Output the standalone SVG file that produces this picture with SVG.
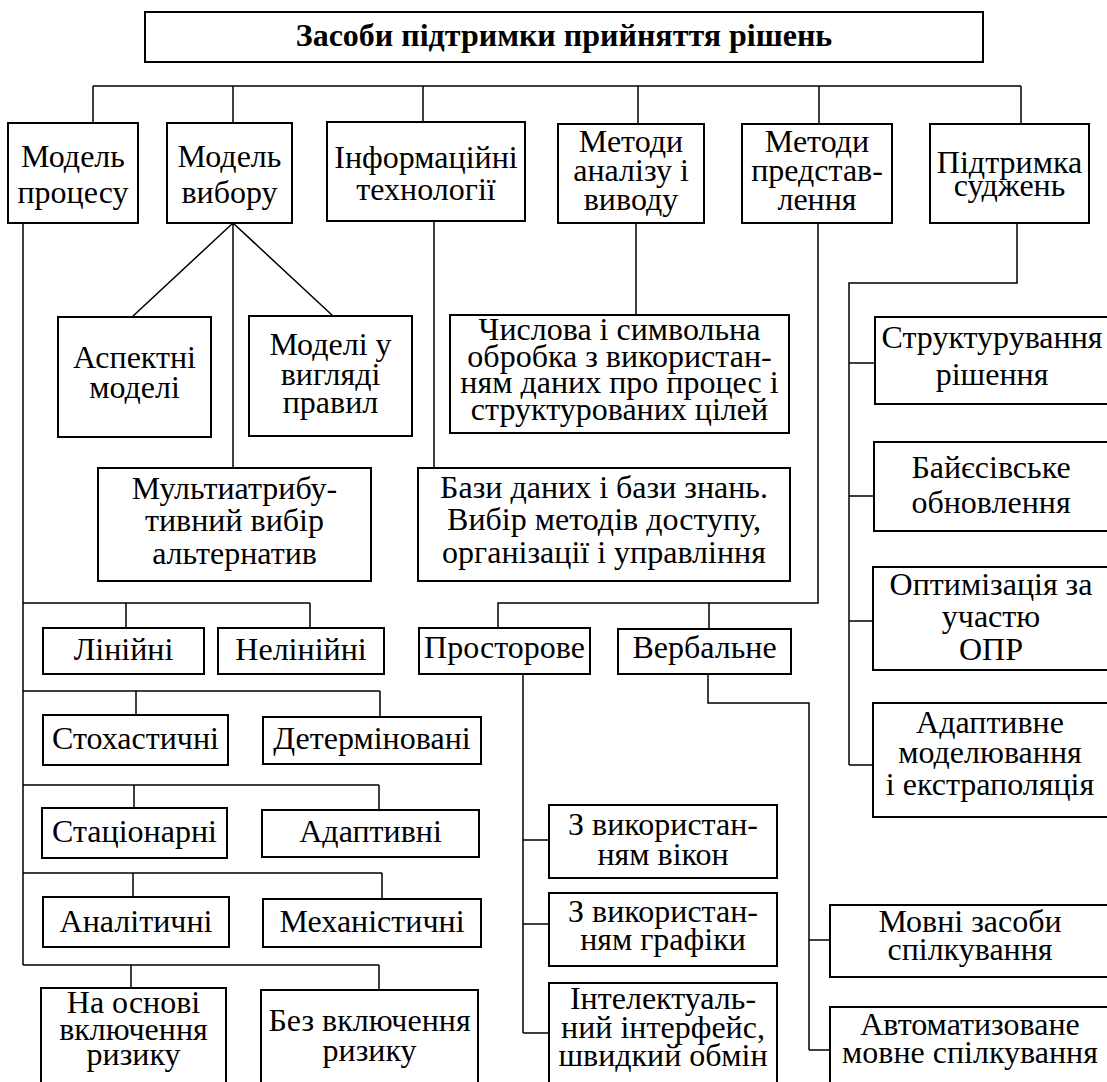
<svg xmlns="http://www.w3.org/2000/svg" width="1107" height="1082" viewBox="0 0 1107 1082" xml:lang="uk" lang="uk" font-family="Liberation Serif, DejaVu Serif, serif">
<style>
.box{fill:#fff;stroke:#000;stroke-width:2}
.ln{fill:none;stroke:#000;stroke-width:1.5}
.t{font-family:'Liberation Serif','DejaVu Serif',serif;font-size:32px;text-anchor:middle;fill:#000}
.title{font-weight:bold}
</style>
<rect width="1107" height="1082" fill="#fff"/>
<g id="connectors">
<path class="ln" d="M93,86 H1021 M93,86 V123 M233,86 V123 M423,86 V122 M638,86 V124 M819,86 V124 M1021,86 V124"/>
<path class="ln" d="M23,223 V965 M23,603 H310 M126,603 V628 M310,603 V628 M23,691 H380 M136,691 V715 M380,691 V717 M23,785 H379 M134,785 V808 M379,785 V810 M23,873 H382 M133,873 V897 M382,873 V899 M23,965 H379 M131,965 V988 M379,965 V990"/>
<path class="ln" d="M233,223 L132,317 M233,223 L333,316 M233,223 V468"/>
<path class="ln" d="M434,221 V468"/>
<path class="ln" d="M636,223 V315"/>
<path class="ln" d="M818,223 V603 H498 V628 M709,603 V629"/>
<path class="ln" d="M523,674 V1033 M523,840 H549 M523,924 H549 M523,1033 H549"/>
<path class="ln" d="M708,674 V703 H809 V1050 M809,940 H830 M809,1050 H830"/>
<path class="ln" d="M1017,223 V283 H849 V765 M849,363 H875 M849,496 H874 M849,621 H873 M849,765 H873"/>
</g>
<g id="title"><rect class="box" x="145" y="12" width="838" height="50"/><text class="t title" x="564" y="46">Засоби підтримки прийняття рішень</text></g>
<g id="model-procesu"><rect class="box" x="8" y="123" width="130" height="100"/><text class="t"><tspan x="73" y="167">Модель</tspan><tspan x="73" y="203">процесу</tspan></text></g>
<g id="model-vyboru"><rect class="box" x="167" y="123" width="125" height="100"/><text class="t"><tspan x="229.5" y="167">Модель</tspan><tspan x="229.5" y="203">вибору</tspan></text></g>
<g id="inf-tech"><rect class="box" x="327" y="122" width="198" height="99"/><text class="t"><tspan x="426" y="168">Інформаційні</tspan><tspan x="426" y="200">технології</tspan></text></g>
<g id="metody-analizu"><rect class="box" x="558" y="124" width="146" height="99"/><text class="t"><tspan x="631" y="152">Методи</tspan><tspan x="631" y="181">аналізу і</tspan><tspan x="631" y="210">виводу</tspan></text></g>
<g id="metody-predst"><rect class="box" x="742" y="124" width="150" height="99"/><text class="t"><tspan x="817" y="152">Методи</tspan><tspan x="817" y="181">представ-</tspan><tspan x="817" y="210">лення</tspan></text></g>
<g id="pidtrymka"><rect class="box" x="930" y="124" width="159" height="99"/><text class="t"><tspan x="1009.5" y="173">Підтримка</tspan><tspan x="1009.5" y="196">суджень</tspan></text></g>
<g id="aspektni"><rect class="box" x="58" y="317" width="153" height="120"/><text class="t"><tspan x="134.5" y="368">Аспектні</tspan><tspan x="134.5" y="398">моделі</tspan></text></g>
<g id="pravyla"><rect class="box" x="249" y="316" width="163" height="120"/><text class="t"><tspan x="330.5" y="355">Моделі у</tspan><tspan x="330.5" y="385">вигляді</tspan><tspan x="330.5" y="413">правил</tspan></text></g>
<g id="multy"><rect class="box" x="98" y="468" width="273" height="113"/><text class="t"><tspan x="234.5" y="499">Мультиатрибу-</tspan><tspan x="234.5" y="531">тивний вибір</tspan><tspan x="234.5" y="564">альтернатив</tspan></text></g>
<g id="chyslova"><rect class="box" x="450" y="315" width="339" height="118"/><text class="t"><tspan x="619.5" y="340">Числова і символьна</tspan><tspan x="619.5" y="367">обробка з використан-</tspan><tspan x="619.5" y="393">ням даних про процес і</tspan><tspan x="619.5" y="420">структурованих цілей</tspan></text></g>
<g id="bazy"><rect class="box" x="418" y="468" width="372" height="113"/><text class="t"><tspan x="604" y="498">Бази даних і бази знань.</tspan><tspan x="604" y="530">Вибір методів доступу,</tspan><tspan x="604" y="563">організації і управління</tspan></text></g>
<g id="struktur"><rect class="box" x="875" y="317" width="245" height="87"/><text class="t"><tspan x="992" y="348">Структурування</tspan><tspan x="992" y="385">рішення</tspan></text></g>
<g id="bayes"><rect class="box" x="874" y="442" width="245" height="89"/><text class="t"><tspan x="991" y="478">Байєсівське</tspan><tspan x="991" y="513">обновлення</tspan></text></g>
<g id="optym"><rect class="box" x="873" y="567" width="245" height="103"/><text class="t"><tspan x="991" y="595">Оптимізація за</tspan><tspan x="991" y="627">участю</tspan><tspan x="991" y="660">ОПР</tspan></text></g>
<g id="adapt-mod"><rect class="box" x="873" y="703" width="245" height="114"/><text class="t"><tspan x="990" y="733">Адаптивне</tspan><tspan x="990" y="763">моделювання</tspan><tspan x="990" y="795">і екстраполяція</tspan></text></g>
<g id="liniini"><rect class="box" x="43" y="628" width="161" height="46"/><text class="t" x="123.5" y="660">Лінійні</text></g>
<g id="neliniini"><rect class="box" x="218" y="628" width="166" height="46"/><text class="t" x="301" y="660">Нелінійні</text></g>
<g id="stoch"><rect class="box" x="43" y="715" width="185" height="50"/><text class="t" x="135.5" y="749">Стохастичні</text></g>
<g id="determ"><rect class="box" x="263" y="717" width="218" height="47"/><text class="t" x="372" y="749">Детерміновані</text></g>
<g id="stac"><rect class="box" x="42" y="808" width="185" height="50"/><text class="t" x="134.5" y="842">Стаціонарні</text></g>
<g id="adaptyvni"><rect class="box" x="262" y="810" width="217" height="47"/><text class="t" x="370.5" y="842">Адаптивні</text></g>
<g id="analit"><rect class="box" x="43" y="897" width="186" height="50"/><text class="t" x="136" y="932">Аналітичні</text></g>
<g id="mech"><rect class="box" x="263" y="899" width="218" height="48"/><text class="t" x="372" y="932">Механістичні</text></g>
<g id="na-osnovi"><rect class="box" x="41" y="988" width="185" height="110"/><text class="t"><tspan x="133.5" y="1013">На основі</tspan><tspan x="133.5" y="1040">включення</tspan><tspan x="133.5" y="1065">ризику</tspan></text></g>
<g id="bez"><rect class="box" x="261" y="990" width="217" height="110"/><text class="t"><tspan x="369.5" y="1031">Без включення</tspan><tspan x="369.5" y="1061">ризику</tspan></text></g>
<g id="prostorove"><rect class="box" x="419" y="628" width="171" height="46"/><text class="t" x="504.5" y="658">Просторове</text></g>
<g id="verbalne"><rect class="box" x="618" y="629" width="173" height="45"/><text class="t" x="704.5" y="658">Вербальне</text></g>
<g id="vikon"><rect class="box" x="549" y="805" width="228" height="73"/><text class="t"><tspan x="663" y="835">З використан-</tspan><tspan x="663" y="865">ням вікон</tspan></text></g>
<g id="grafiky"><rect class="box" x="549" y="893" width="228" height="73"/><text class="t"><tspan x="663" y="922">З використан-</tspan><tspan x="663" y="950">ням графіки</tspan></text></g>
<g id="intel"><rect class="box" x="549" y="983" width="228" height="110"/><text class="t"><tspan x="663" y="1009">Інтелектуаль-</tspan><tspan x="663" y="1038">ний інтерфейс,</tspan><tspan x="663" y="1066">швидкий обмін</tspan></text></g>
<g id="movni"><rect class="box" x="830" y="905" width="290" height="72"/><text class="t"><tspan x="970" y="932">Мовні засоби</tspan><tspan x="970" y="960">спілкування</tspan></text></g>
<g id="avto"><rect class="box" x="830" y="1007" width="290" height="110"/><text class="t"><tspan x="970" y="1035">Автоматизоване</tspan><tspan x="970" y="1063">мовне спілкування</tspan></text></g>
</svg>
